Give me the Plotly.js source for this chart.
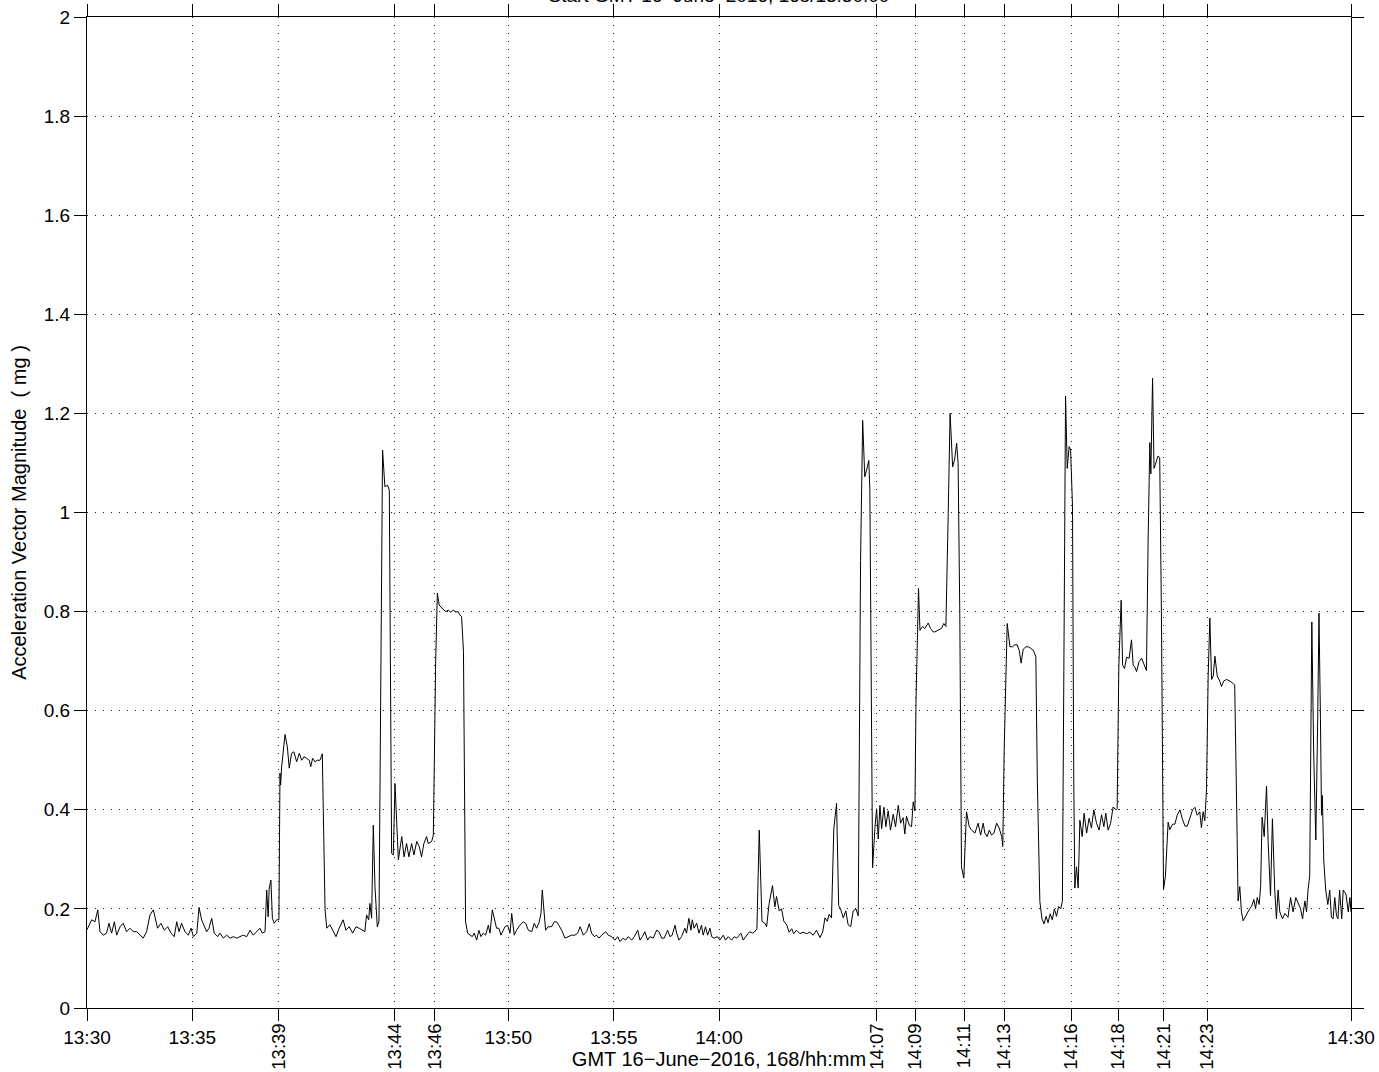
<!DOCTYPE html>
<html>
<head>
<meta charset="utf-8">
<script src="https://cdn.plot.ly/plotly-3.0.1.min.js"></script>
<style>
  html, body { margin: 0; padding: 0; background: #fff; }
  #chart { width: 1379px; height: 1072px; }
</style>
</head>
<body>
<div id="chart"></div>
<script>
// ---- data (minutes after 13:30:00 GMT, 16-June-2016) ----
const tMinutes = [
  0,0.22,0.38,0.51,0.62,0.77,0.93,1.04,1.17,1.30,1.41,1.57,1.72,1.88,2.04,2.20,2.36,2.52,2.67,2.83,
  2.99,3.15,3.26,3.35,3.51,3.67,3.83,3.99,4.14,4.26,4.37,4.49,4.65,4.81,4.94,5.05,5.21,5.32,5.44,5.57,
  5.68,5.79,5.92,6.04,6.20,6.31,6.47,6.63,6.79,6.94,7.10,7.26,7.42,7.58,7.74,7.89,8.05,8.21,8.32,8.45,
  8.53,8.60,8.65,8.73,8.80,8.89,9.00,9.11,9.16,9.19,9.24,9.40,9.51,9.60,9.71,9.82,9.95,10.08,10.19,10.30,
  10.43,10.55,10.62,10.71,10.82,10.93,11.06,11.17,11.30,11.38,11.53,11.69,11.82,11.97,12.16,12.29,12.45,12.61,12.77,12.92,
  13.08,13.19,13.27,13.37,13.43,13.51,13.59,13.67,13.78,13.86,14.03,14.14,14.27,14.35,14.46,14.54,14.62,14.70,14.78,14.94,
  15.05,15.17,15.28,15.41,15.52,15.65,15.77,15.88,15.99,16.12,16.20,16.36,16.44,16.55,16.63,16.72,16.83,16.94,17.04,17.15,
  17.26,17.39,17.51,17.62,17.70,17.78,17.87,17.97,18.07,18.18,18.29,18.38,18.50,18.60,18.70,18.81,18.92,19.05,19.13,19.24,
  19.36,19.44,19.55,19.65,19.76,19.84,19.97,20.08,20.16,20.28,20.39,20.55,20.71,20.82,20.95,21.11,21.23,21.34,21.45,21.55,
  21.61,21.70,21.77,21.89,22.05,22.18,22.29,22.40,22.53,22.69,22.84,23.00,23.16,23.29,23.41,23.56,23.72,23.84,23.95,24.08,
  24.19,24.30,24.43,24.62,24.74,24.90,25.06,25.19,25.30,25.45,25.57,25.69,25.85,25.98,26.14,26.25,26.36,26.48,26.61,26.72,
  26.88,27.04,27.15,27.28,27.40,27.56,27.67,27.78,27.91,27.99,28.10,28.22,28.38,28.46,28.57,28.67,28.73,28.82,28.94,29.05,
  29.17,29.25,29.36,29.46,29.57,29.65,29.77,29.93,30.04,30.20,30.31,30.44,30.60,30.72,30.84,30.94,31.04,31.15,31.26,31.39,
  31.47,31.58,31.70,31.80,31.91,32.04,32.18,32.26,32.38,32.54,32.65,32.73,32.86,32.97,33.08,33.21,33.33,33.45,33.55,33.68,
  33.84,34.00,34.16,34.31,34.47,34.63,34.79,34.92,35.03,35.14,35.23,35.34,35.45,35.58,35.68,35.77,35.90,36.02,36.13,36.25,
  36.37,36.50,36.61,36.72,36.82,36.92,37.03,37.11,37.16,37.24,37.29,37.40,37.48,37.56,37.64,37.72,37.83,37.92,38.03,38.14,
  38.27,38.38,38.51,38.62,38.74,38.82,38.90,39.03,39.14,39.22,39.30,39.35,39.47,39.54,39.66,39.77,39.93,40.04,40.17,40.25,
  40.40,40.56,40.67,40.77,40.88,40.97,41.09,41.18,41.28,41.35,41.43,41.51,41.62,41.70,41.75,41.88,41.99,42.15,42.30,42.42,
  42.54,42.62,42.73,42.83,42.94,43.05,43.18,43.30,43.42,43.47,43.54,43.68,43.81,43.93,44.04,44.15,44.25,44.34,44.44,44.57,
  44.68,44.79,44.92,45.04,45.11,45.23,45.33,45.43,45.53,45.62,45.72,45.82,45.92,46.02,46.12,46.22,46.30,46.38,46.45,46.53,
  46.62,46.69,46.78,46.84,46.89,46.97,47.05,47.13,47.24,47.33,47.45,47.57,47.68,47.79,47.92,48.04,48.16,48.27,48.36,48.47,
  48.59,48.71,48.84,48.90,48.98,49.09,49.16,49.25,49.35,49.47,49.58,49.66,49.74,49.82,49.94,50.06,50.17,50.29,50.37,50.45,
  50.50,50.58,50.65,50.77,50.84,50.92,51.00,51.10,51.19,51.32,51.40,51.53,51.64,51.75,51.88,51.99,52.12,52.23,52.35,52.48,
  52.59,52.70,52.82,52.90,52.98,53.06,53.14,53.22,53.30,53.38,53.46,53.54,53.65,53.77,53.85,53.96,54.09,54.25,54.37,54.48,
  54.56,54.64,54.72,54.80,54.88,55.01,55.12,55.20,55.28,55.39,55.47,55.55,55.64,55.71,55.78,55.88,55.99,56.07,56.18,56.27,
  56.38,56.46,56.54,56.62,56.75,56.86,57.01,57.13,57.25,57.38,57.49,57.60,57.70,57.81,57.89,57.96,58.04,58.14,58.23,58.33,
  58.42,58.48,58.55,58.60,58.64,58.71,58.80,58.90,58.99,59.07,59.15,59.23,59.31,59.38,59.46,59.56,59.63,59.76,59.87,59.95,
  60.00
];
const accelMg = [
  0.158,0.178,0.174,0.198,0.154,0.147,0.151,0.171,0.151,0.174,0.147,0.164,0.171,0.154,0.161,0.154,0.154,0.147,0.141,0.154,
  0.188,0.198,0.178,0.161,0.171,0.157,0.164,0.151,0.144,0.174,0.154,0.171,0.154,0.147,0.161,0.144,0.151,0.203,0.178,0.164,
  0.154,0.161,0.181,0.151,0.144,0.151,0.141,0.147,0.141,0.144,0.141,0.144,0.147,0.144,0.157,0.147,0.154,0.161,0.151,0.154,
  0.238,0.184,0.242,0.258,0.181,0.171,0.178,0.178,0.474,0.450,0.487,0.552,0.527,0.484,0.514,0.517,0.497,0.514,0.500,0.507,
  0.504,0.500,0.487,0.504,0.497,0.500,0.500,0.513,0.198,0.161,0.168,0.154,0.144,0.161,0.178,0.157,0.164,0.151,0.164,0.161,
  0.157,0.154,0.188,0.178,0.211,0.181,0.369,0.245,0.164,0.175,1.126,1.052,1.055,1.045,0.312,0.309,0.453,0.373,0.299,0.346,
  0.305,0.332,0.305,0.332,0.309,0.336,0.326,0.305,0.332,0.346,0.332,0.336,0.349,0.696,0.837,0.813,0.807,0.803,0.800,0.803,
  0.799,0.803,0.799,0.800,0.793,0.790,0.720,0.174,0.151,0.147,0.144,0.151,0.137,0.157,0.144,0.151,0.147,0.167,0.151,0.198,
  0.171,0.161,0.161,0.147,0.157,0.164,0.167,0.151,0.191,0.147,0.157,0.167,0.174,0.171,0.157,0.154,0.171,0.161,0.171,0.191,
  0.238,0.184,0.157,0.164,0.164,0.174,0.174,0.167,0.157,0.141,0.144,0.147,0.147,0.151,0.164,0.147,0.154,0.170,0.151,0.144,
  0.147,0.141,0.147,0.154,0.147,0.144,0.137,0.144,0.134,0.141,0.137,0.144,0.137,0.144,0.157,0.137,0.144,0.154,0.137,0.144,
  0.141,0.157,0.154,0.141,0.141,0.157,0.144,0.147,0.167,0.151,0.137,0.144,0.161,0.151,0.181,0.157,0.178,0.161,0.171,0.151,
  0.167,0.147,0.164,0.147,0.161,0.144,0.141,0.144,0.137,0.147,0.137,0.144,0.137,0.144,0.141,0.147,0.151,0.137,0.144,0.151,
  0.154,0.151,0.154,0.160,0.359,0.175,0.171,0.164,0.211,0.247,0.204,0.225,0.196,0.200,0.175,0.168,0.153,0.160,0.150,0.157,
  0.150,0.153,0.150,0.153,0.147,0.157,0.142,0.153,0.182,0.175,0.189,0.182,0.362,0.413,0.207,0.200,0.182,0.196,0.168,0.164,
  0.196,0.200,0.186,0.903,1.186,1.072,1.090,1.105,1.047,0.470,0.283,0.362,0.402,0.341,0.409,0.362,0.405,0.366,0.398,0.359,
  0.391,0.366,0.409,0.373,0.384,0.351,0.387,0.369,0.366,0.416,0.398,0.615,0.847,0.762,0.770,0.766,0.777,0.766,0.759,0.759,
  0.763,0.766,0.776,0.770,0.998,1.200,1.092,1.106,1.140,1.099,0.797,0.285,0.262,0.346,0.396,0.366,0.359,0.353,0.373,0.349,
  0.373,0.353,0.346,0.359,0.349,0.353,0.373,0.363,0.346,0.326,0.527,0.776,0.729,0.729,0.733,0.733,0.722,0.696,0.724,0.729,
  0.729,0.726,0.722,0.709,0.460,0.215,0.180,0.170,0.185,0.172,0.190,0.178,0.200,0.185,0.205,0.200,0.215,0.750,1.235,1.089,
  1.133,1.126,1.012,0.460,0.242,0.285,0.242,0.379,0.346,0.393,0.353,0.383,0.363,0.400,0.373,0.359,0.390,0.366,0.393,0.359,
  0.373,0.406,0.400,0.403,0.692,0.823,0.692,0.685,0.708,0.706,0.743,0.692,0.688,0.679,0.699,0.706,0.692,0.681,0.945,1.141,
  1.078,1.271,1.089,1.105,1.114,1.111,0.800,0.239,0.266,0.375,0.360,0.371,0.371,0.389,0.400,0.382,0.367,0.367,0.382,0.400,
  0.405,0.389,0.396,0.364,0.396,0.378,0.440,0.670,0.787,0.663,0.670,0.710,0.670,0.660,0.649,0.660,0.663,0.660,0.656,0.652,
  0.440,0.216,0.245,0.194,0.176,0.187,0.194,0.201,0.205,0.219,0.201,0.223,0.209,0.245,0.385,0.346,0.448,0.331,0.227,0.382,
  0.238,0.180,0.238,0.194,0.180,0.191,0.183,0.223,0.194,0.223,0.212,0.201,0.180,0.216,0.194,0.238,0.266,0.779,0.512,0.339,
  0.584,0.797,0.584,0.389,0.429,0.295,0.238,0.209,0.238,0.183,0.180,0.223,0.187,0.180,0.238,0.180,0.238,0.230,0.194,0.223,
  0.194
];

// ---- tick definitions ----
const mainTickTimes  = ['13:30:00','13:35:00','13:50:00','13:55:00','14:00:00','14:30:00'];
const mainTickLabels = ['13:30','13:35','13:50','13:55','14:00','14:30'];
const eventTickTimes  = ['13:39:06','13:44:36','13:46:30','14:07:29','14:09:19','14:11:38','14:13:33','14:16:43','14:18:57','14:21:06','14:23:10'];
const eventTickLabels = ['13:39','13:44','13:46','14:07','14:09','14:11','14:13','14:16','14:18','14:21','14:23'];
const yTickVals   = [0,0.2,0.4,0.6,0.8,1,1.2,1.4,1.6,1.8,2];
const yTickLabels = ['0','0.2','0.4','0.6','0.8','1','1.2','1.4','1.6','1.8','2'];

const DAY = '2016-06-16 ';
const START_SEC = 13*3600 + 30*60;
function pad(n){ return (n < 10 ? '0' : '') + n; }
function minToStamp(m){
  const s = START_SEC + m*60;
  const hh = Math.floor(s/3600);
  const mm = Math.floor((s - hh*3600)/60);
  const ss = s - hh*3600 - mm*60;
  const ssI = Math.floor(ss);
  const frac = Math.round((ss - ssI)*1000);
  return DAY + pad(hh) + ':' + pad(mm) + ':' + pad(ssI) + '.' + String(frac).padStart(3,'0');
}
const xStamps = tMinutes.map(minToStamp);
const xRange = [DAY + '13:30:00', DAY + '14:30:00'];

const FONT = 'Liberation Sans, Arial, Helvetica, sans-serif';
const gridDash = '1px,7px';

const trace = {
  type: 'scatter', mode: 'lines',
  x: xStamps, y: accelMg,
  xaxis: 'x', yaxis: 'y',
  line: { color: '#000', width: 1 },
  hoverinfo: 'skip', showlegend: false
};

const commonX = {
  type: 'date', range: xRange, autorange: false,
  showline: true, linecolor: '#000', linewidth: 1, mirror: 'ticks',
  ticks: 'outside', ticklen: 12, tickwidth: 1, tickcolor: '#000',
  showgrid: true, gridcolor: '#222', gridwidth: 1, griddash: gridDash,
  zeroline: false, tickmode: 'array', automargin: false,
  tickfont: { family: FONT, size: 19, color: '#000' }
};

const layout = {
  width: 1379, height: 1072,
  margin: { l: 87, r: 28, t: 17, b: 64, pad: 0 },
  paper_bgcolor: '#fff', plot_bgcolor: '#fff',
  font: { family: FONT, size: 19, color: '#000' },
  title: {
    text: 'Start GMT 16\u2212June\u22122016, 168/13:30:00',
    font: { family: FONT, size: 19, color: '#000' },
    x: 0.5, xref: 'paper', xanchor: 'center',
    y: 0.9985, yref: 'container', yanchor: 'bottom'
  },
  xaxis: Object.assign({}, commonX, {
    tickvals: mainTickTimes.map(t => DAY + t),
    ticktext: mainTickLabels,
    tickangle: 0,
    title: { text: 'GMT 16\u2212June\u22122016, 168/hh:mm', font: { family: FONT, size: 20, color: '#000' }, standoff: 5 }
  }),
  xaxis2: Object.assign({}, commonX, {
    overlaying: 'x', anchor: 'y', side: 'bottom',
    tickvals: eventTickTimes.map(t => DAY + t),
    ticktext: eventTickLabels,
    tickangle: -90,
    ticklabelstandoff: -5,
    tickfont: { family: FONT, size: 18.5, color: '#000' }
  }),
  yaxis: {
    range: [0, 2], autorange: false,
    tickmode: 'array', tickvals: yTickVals, ticktext: yTickLabels,
    showline: true, linecolor: '#000', linewidth: 1, mirror: 'ticks',
    ticks: 'outside', ticklen: 12, tickwidth: 1, tickcolor: '#000',
    showgrid: true, gridcolor: '#222', gridwidth: 1, griddash: gridDash,
    zeroline: false, automargin: false,
    tickfont: { family: FONT, size: 19, color: '#000' },
    title: { text: 'Acceleration Vector Magnitude\u00a0\u00a0( mg )', font: { family: FONT, size: 20, color: '#000' }, standoff: 11 }
  }
};

const dummy = { type: 'scatter', mode: 'lines', x: [], y: [], xaxis: 'x2', yaxis: 'y', showlegend: false, hoverinfo: 'skip' };

Plotly.newPlot('chart', [trace, dummy], layout, { staticPlot: true, displayModeBar: false });
</script>
</body>
</html>
